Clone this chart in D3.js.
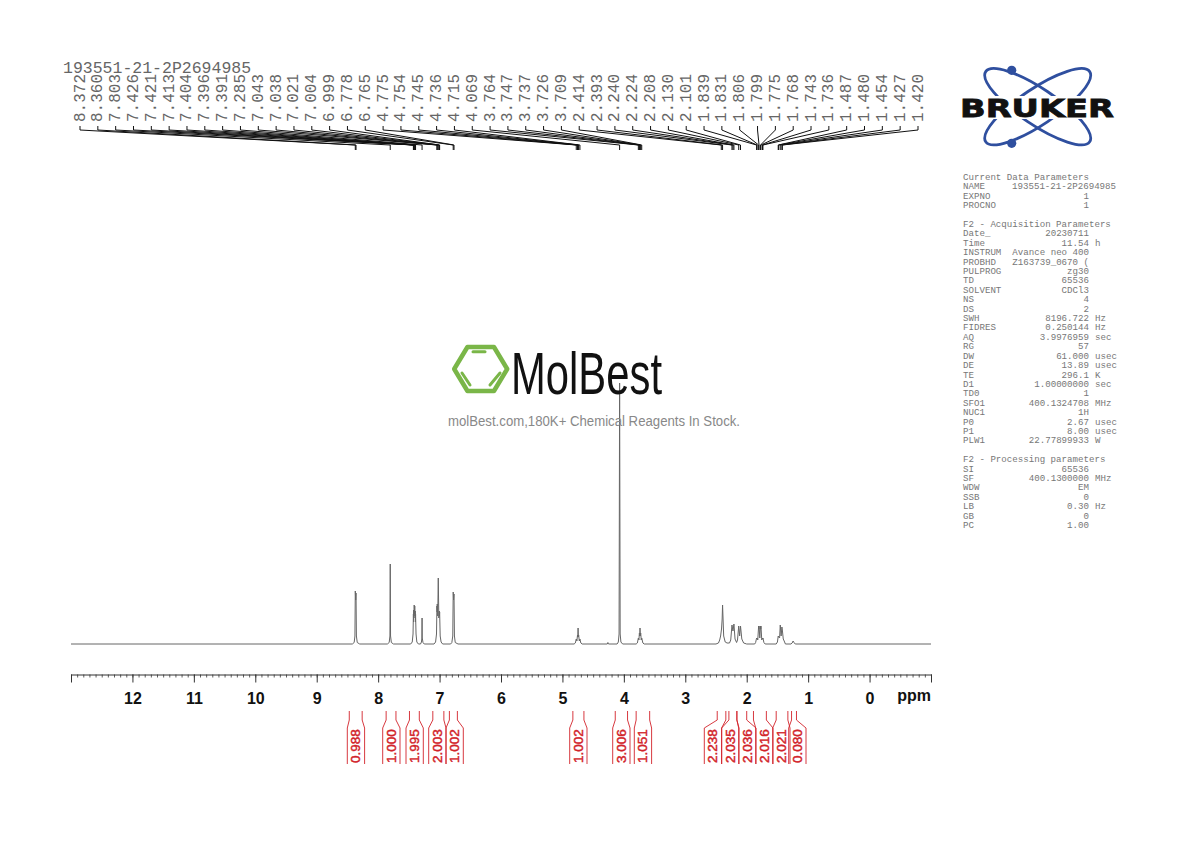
<!DOCTYPE html>
<html>
<head>
<meta charset="utf-8">
<title>193551-21-2P2694985</title>
<script src="https://cdn.jsdelivr.net/npm/d3@7"></script>
<style>
  html, body { margin: 0; padding: 0; background: #fff; }
  svg { display: block; }
</style>
</head>
<body>
<div id="chart"></div>
<script>
var sampleName = '193551-21-2P2694985';

// trace: [ppm, intensity]
var aromaticTrace = [
  [13, 0], [8.42, 0], [8.39, 1.5], [8.378, 8], [8.372, 53], [8.366, 44], [8.360, 51], [8.354, 8], [8.34, 1.5], [8.30, 0],
  [7.85, 0], [7.82, 1.5], [7.808, 8], [7.803, 80], [7.798, 8], [7.785, 1.5], [7.75, 0],
  [7.47, 0], [7.445, 2], [7.432, 10], [7.426, 30], [7.423, 22], [7.421, 34], [7.417, 26], [7.413, 39], [7.408, 30],
  [7.404, 38], [7.40, 28], [7.396, 33], [7.393, 22], [7.391, 30], [7.383, 10], [7.37, 2], [7.345, 0],
  [7.31, 0], [7.295, 2], [7.288, 6], [7.285, 26], [7.282, 6], [7.27, 1.5], [7.25, 0],
  [7.09, 0], [7.065, 2], [7.05, 10], [7.043, 38], [7.04, 32], [7.038, 40], [7.03, 28], [7.021, 66], [7.012, 26],
  [7.004, 33], [7.002, 28], [6.999, 32], [6.99, 8], [6.975, 2], [6.95, 0],
  [6.82, 0], [6.80, 1.5], [6.785, 8], [6.778, 52], [6.772, 44], [6.765, 50], [6.758, 8], [6.745, 1.5], [6.70, 0]
];
var midTrace = [
  [4.81, 0], [4.79, 1], [4.775, 5], [4.765, 3], [4.754, 9], [4.75, 7], [4.745, 16], [4.74, 7], [4.736, 9], [4.725, 3],
  [4.715, 5], [4.70, 1], [4.68, 0],
  [4.27, 0], [4.26, 1.5], [4.25, 0],
  [4.11, 0], [4.09, 2], [4.078, 10], [4.069, 261], [4.06, 10], [4.048, 2], [4.02, 0],
  [3.80, 0], [3.78, 1], [3.764, 6], [3.755, 4], [3.747, 11], [3.742, 8], [3.737, 16], [3.731, 8], [3.726, 11],
  [3.717, 4], [3.709, 6], [3.69, 1], [3.67, 0]
];
var aliphaticTrace = [
  [2.50, 0], [2.46, 1], [2.44, 4], [2.425, 8], [2.41, 15], [2.40, 25], [2.393, 39], [2.385, 25], [2.375, 8], [2.35, 2], [2.32, 1],
  [2.28, 1], [2.26, 4], [2.24, 19], [2.224, 13], [2.208, 20], [2.19, 5], [2.165, 1.5],
  [2.15, 4], [2.13, 18], [2.115, 8], [2.101, 18], [2.08, 5], [2.05, 1], [2.0, 0],
  [1.87, 0], [1.855, 1.5], [1.839, 6], [1.835, 5], [1.831, 6], [1.82, 4], [1.806, 18], [1.803, 15], [1.799, 18],
  [1.787, 6], [1.775, 18], [1.772, 15], [1.768, 18], [1.755, 4], [1.743, 6], [1.74, 5], [1.736, 6], [1.72, 1.5], [1.70, 0],
  [1.52, 0], [1.50, 2], [1.487, 8], [1.48, 7], [1.465, 6], [1.454, 19], [1.44, 8], [1.427, 17], [1.42, 14], [1.405, 5],
  [1.39, 3], [1.37, 0],
  [1.28, 0], [1.26, 1], [1.245, 3], [1.23, 1.5], [1.21, 0], [-1, 0]
];

var peakLabels = ['8.372', '8.360', '7.803', '7.426', '7.421', '7.413', '7.404', '7.396', '7.391', '7.285', '7.043', '7.038',
  '7.021', '7.004', '6.999', '6.778', '6.765', '4.775', '4.754', '4.745', '4.736', '4.715', '4.069', '3.764', '3.747', '3.737',
  '3.726', '3.709', '2.414', '2.393', '2.240', '2.224', '2.208', '2.130', '2.101', '1.839', '1.831', '1.806', '1.799', '1.775',
  '1.768', '1.743', '1.736', '1.487', '1.480', '1.454', '1.427', '1.420'];

var integralValues = ['0.988', '1.000', '1.995', '2.003', '1.002', '1.002', '3.006', '1.051', '2.238', '2.035', '2.036', '2.016', '2.021', '0.080'];
var integralStart = [8.47, 7.87, 7.49, 7.11, 6.84, 4.83, 4.14, 3.80, 2.48, 2.29, 2.16, 1.89, 1.52, 1.27];
var integralEnd = [8.26, 7.71, 7.33, 6.93, 6.71, 4.65, 3.94, 3.58, 2.34, 2.16, 2.00, 1.68, 1.33, 1.19];

var majorTicks = [12, 11, 10, 9, 8, 7, 6, 5, 4, 3, 2, 1, 0];

var params = [
  ['Current Data Parameters'],
  ['NAME', sampleName, ''],
  ['EXPNO', '1', ''],
  ['PROCNO', '1', ''],
  [],
  ['F2 - Acquisition Parameters'],
  ['Date_', '20230711', ''],
  ['Time', '11.54', 'h'],
  ['INSTRUM', 'Avance neo 400', ''],
  ['PROBHD', 'Z163739_0670 (', ''],
  ['PULPROG', 'zg30', ''],
  ['TD', '65536', ''],
  ['SOLVENT', 'CDCl3', ''],
  ['NS', '4', ''],
  ['DS', '2', ''],
  ['SWH', '8196.722', 'Hz'],
  ['FIDRES', '0.250144', 'Hz'],
  ['AQ', '3.9976959', 'sec'],
  ['RG', '57', ''],
  ['DW', '61.000', 'usec'],
  ['DE', '13.89', 'usec'],
  ['TE', '296.1', 'K'],
  ['D1', '1.00000000', 'sec'],
  ['TD0', '1', ''],
  ['SFO1', '400.1324708', 'MHz'],
  ['NUC1', '1H', ''],
  ['P0', '2.67', 'usec'],
  ['P1', '8.00', 'usec'],
  ['PLW1', '22.77899933', 'W'],
  [],
  ['F2 - Processing parameters'],
  ['SI', '65536', ''],
  ['SF', '400.1300000', 'MHz'],
  ['WDW', 'EM', ''],
  ['SSB', '0', ''],
  ['LB', '0.30', 'Hz'],
  ['GB', '0', ''],
  ['PC', '1.00', '']
];

var width = 1190, height = 842;
var monoFont = '"Liberation Mono", "DejaVu Sans Mono", monospace';
var sansFont = '"Liberation Sans", Arial, sans-serif';

var svg = d3.select('#chart').append('svg')
  .attr('width', width)
  .attr('height', height)
  .attr('viewBox', '0 0 ' + width + ' ' + height);

var x = d3.scaleLinear().domain([13, -1]).range([71, 931]);
var y = d3.scaleLinear().domain([0, 261]).range([644, 383]);

// spectrum trace
var spectrum = aromaticTrace.concat(midTrace, aliphaticTrace);
var line = d3.line()
  .x(function(d) { return x(d[0]); })
  .y(function(d) { return y(d[1]); });

svg.append('path')
  .datum(spectrum)
  .attr('d', line)
  .attr('fill', 'none')
  .attr('stroke', '#666')
  .attr('stroke-width', 1);

// ppm axis, minor ticks first
var axisY = 674.5;
svg.append('g')
  .attr('transform', 'translate(0,' + axisY + ')')
  .call(d3.axisBottom(x).tickValues(d3.range(0, 141).map(function(i) { return -1 + i / 10; })).tickSize(3).tickFormat(''))
  .call(function(g) {
    g.selectAll('line').attr('stroke', '#333').attr('stroke-width', 0.8);
    g.select('.domain').remove();
  });

var major = svg.append('g')
  .attr('transform', 'translate(0,' + axisY + ')')
  .call(d3.axisBottom(x).tickValues(majorTicks.concat([13, -1])).tickSize(8).tickSizeOuter(0).tickPadding(10).tickFormat(function(d) {
    return majorTicks.indexOf(d) >= 0 ? d : '';
  }));
major.select('.domain').attr('stroke', '#333').attr('stroke-width', 1);
major.selectAll('line').attr('stroke', '#333').attr('stroke-width', 1);
major.selectAll('text')
  .attr('font-family', sansFont)
  .attr('font-weight', 'bold')
  .attr('font-size', 16)
  .attr('fill', '#111');

svg.append('text')
  .attr('x', 931)
  .attr('y', 701)
  .attr('text-anchor', 'end')
  .attr('font-family', sansFont)
  .attr('font-weight', 'bold')
  .attr('font-size', 16)
  .attr('fill', '#111')
  .text('ppm');

// title above the peak list
svg.append('text')
  .attr('x', 63)
  .attr('y', 73)
  .attr('font-family', monoFont)
  .attr('font-size', 16.5)
  .attr('fill', '#666')
  .text(sampleName);

// peak labels with their leaders
var labelX = d3.scalePoint().domain(peakLabels).range([80, 918]);

var leaders = svg.append('g').attr('class', 'leaders');
leaders.selectAll('path')
  .data(peakLabels)
  .enter().append('path')
  .attr('d', function(d) {
    return 'M' + labelX(d) + ',126V130L' + x(+d) + ',145V150';
  })
  .attr('fill', 'none')
  .attr('stroke', '#111')
  .attr('stroke-width', 1);

svg.append('g').selectAll('text')
  .data(peakLabels)
  .enter().append('text')
  .attr('transform', function(d) {
    return 'translate(' + (labelX(d) + 4.5) + ',122) rotate(-90)';
  })
  .attr('font-family', monoFont)
  .attr('font-size', 16)
  .attr('fill', '#666')
  .text(function(d) { return d; });

// integrals, the boxes are pushed apart so the labels do not touch
var boxLeft = [347.3, 382.7, 406, 428.7, 446, 569.7, 612.7, 634.3, 704.3, 721.7, 738.7, 755.7, 772.7, 788.7];
var boxWidth = 17.3;
var integralColor = '#d2232a';

var integrals = svg.append('g').selectAll('g')
  .data(integralValues)
  .enter().append('g');

integrals.append('path')
  .attr('d', function(d, i) {
    var a = x(integralStart[i]), b = x(integralEnd[i]);
    var left = boxLeft[i], right = left + boxWidth;
    return 'M' + a + ',711V720L' + left + ',728V764' + 'M' + b + ',711V720L' + right + ',728V764';
  })
  .attr('fill', 'none')
  .attr('stroke', integralColor)
  .attr('stroke-width', 0.9);

integrals.append('text')
  .attr('transform', function(d, i) {
    return 'translate(' + (boxLeft[i] + boxWidth / 2 + 4.5) + ',763) rotate(-90)';
  })
  .attr('font-family', sansFont)
  .attr('font-size', 13.5)
  .attr('fill', integralColor)
  .attr('stroke', integralColor)
  .attr('stroke-width', 0.45)
  .text(function(d) { return d; });

// acquisition parameters
var rowY = d3.scaleLinear().domain([0, params.length - 1]).range([180, 528]);
var paramRows = svg.append('g')
  .attr('font-family', monoFont)
  .attr('font-size', 9.13)
  .attr('fill', '#777')
  .selectAll('g')
  .data(params)
  .enter().append('g')
  .attr('transform', function(d, i) { return 'translate(0,' + rowY(i) + ')'; });

paramRows.append('text')
  .attr('x', 963)
  .text(function(d) { return d[0] || ''; });

paramRows.append('text')
  .attr('x', function(d) { return d[1] === sampleName ? 1012 : 1089; })
  .attr('text-anchor', function(d) { return d[1] === sampleName ? 'start' : 'end'; })
  .text(function(d) { return d[1] || ''; });

paramRows.append('text')
  .attr('x', 1095)
  .text(function(d) { return d[2] || ''; });

// Bruker logo
var bruker = svg.append('g').attr('class', 'bruker');
[-34, 34].forEach(function(angle) {
  bruker.append('ellipse')
    .attr('cx', 1037.7)
    .attr('cy', 106.7)
    .attr('rx', 62.7)
    .attr('ry', 18)
    .attr('transform', 'rotate(' + angle + ' 1037.7 106.7)')
    .attr('fill', 'none')
    .attr('stroke', '#2f4f9f')
    .attr('stroke-width', 2.8);
});
[70.3, 143.3].forEach(function(cy) {
  bruker.append('circle')
    .attr('cx', 1011.7)
    .attr('cy', cy)
    .attr('r', 4.6)
    .attr('fill', '#2f4f9f');
});
bruker.append('rect')
  .attr('x', 958)
  .attr('y', 96)
  .attr('width', 158)
  .attr('height', 23)
  .attr('fill', '#fff');
bruker.append('text')
  .attr('x', 960)
  .attr('y', 116.5)
  .attr('textLength', 154)
  .attr('lengthAdjust', 'spacingAndGlyphs')
  .attr('font-family', '"DejaVu Sans", sans-serif')
  .attr('font-weight', 'bold')
  .attr('font-size', 25)
  .attr('fill', '#111')
  .attr('stroke', '#111')
  .attr('stroke-width', 0.8)
  .text('BRUKER');

// MolBest watermark
var mol = svg.append('g').attr('class', 'molbest');
var hexR = 26.5;
var hexCx = 480.7, hexCy = 369;
var hexPoints = d3.range(6).map(function(i) {
  var a = i * Math.PI / 3;
  return [hexCx + hexR * Math.cos(a), hexCy + hexR * Math.sin(a) * 0.96];
});
mol.append('polygon')
  .attr('points', hexPoints.join(' '))
  .attr('fill', '#fff')
  .attr('stroke', '#7ab648')
  .attr('stroke-width', 4.5)
  .attr('stroke-linejoin', 'round');
[[473, 351.7, 485, 351.7], [462, 373, 470, 385], [490, 385, 500, 373]].forEach(function(s) {
  mol.append('line')
    .attr('x1', s[0]).attr('y1', s[1]).attr('x2', s[2]).attr('y2', s[3])
    .attr('stroke', '#7ab648')
    .attr('stroke-width', 3)
    .attr('stroke-linecap', 'round');
});
mol.append('text')
  .attr('x', 511)
  .attr('y', 394)
  .attr('textLength', 151)
  .attr('lengthAdjust', 'spacingAndGlyphs')
  .attr('font-family', sansFont)
  .attr('font-size', 59)
  .attr('fill', '#111')
  .text('MolBest');
mol.append('text')
  .attr('x', 448)
  .attr('y', 426)
  .attr('textLength', 292)
  .attr('lengthAdjust', 'spacingAndGlyphs')
  .attr('font-family', sansFont)
  .attr('font-size', 14)
  .attr('fill', '#888')
  .text('molBest.com,180K+ Chemical Reagents In Stock.');
</script>
</body>
</html>
